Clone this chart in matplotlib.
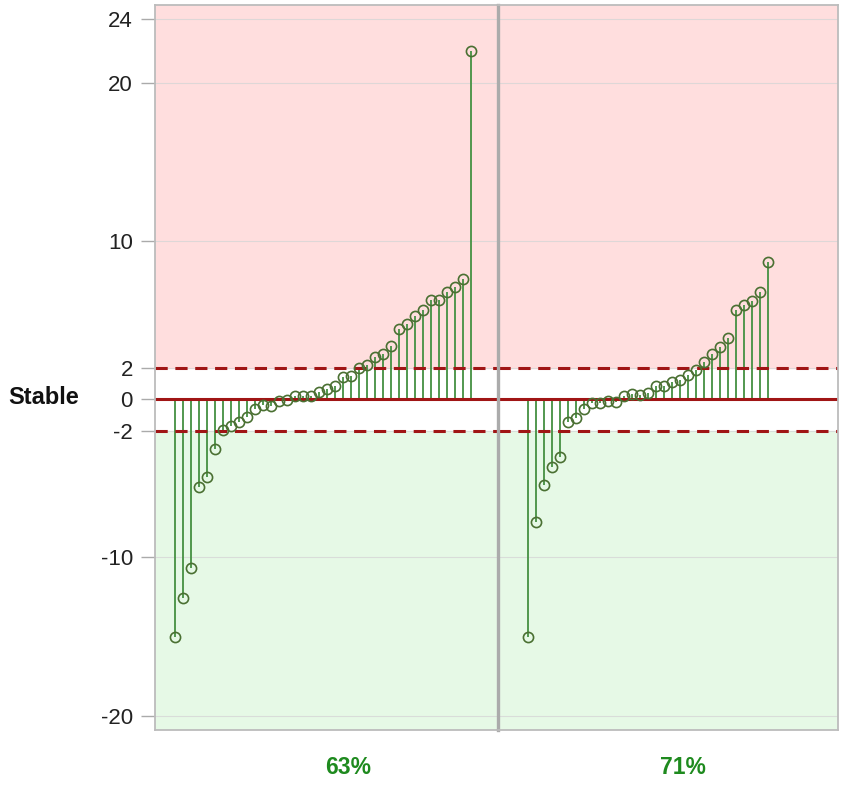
import matplotlib.pyplot as plt
import numpy as np

plt.rcParams["font.family"] = ["Liberation Sans", "DejaVu Sans"]

# sorted change values per group
group_labels = ["63%", "71%"]
left_values = [
    -15.0, -12.55, -10.65, -5.55, -4.94, -3.16, -1.96, -1.71, -1.43, -1.12,
    -0.65, -0.40, -0.44, -0.10, -0.05, 0.20, 0.23, 0.23, 0.46, 0.67,
    0.86, 1.37, 1.46, 1.98, 2.15, 2.68, 2.85, 3.35, 4.45, 4.77,
    5.23, 5.63, 6.27, 6.27, 6.79, 7.11, 7.58, 22.0,
]
right_values = [
    -15.04, -7.74, -5.44, -4.26, -3.63, -1.46, -1.22, -0.65, -0.27, -0.27,
    -0.13, -0.21, 0.21, 0.30, 0.25, 0.36, 0.86, 0.86, 1.08, 1.20,
    1.54, 1.84, 2.36, 2.87, 3.27, 3.88, 5.63, 5.93, 6.22, 6.79,
    8.65,
]
y_ticks = [-20, -10, -2, 0, 2, 10, 20, 24]
threshold = 2

fig = plt.figure(figsize=(8.46, 7.86), dpi=100)
ax_l = fig.add_axes([155 / 846, 1 - 730 / 786, 343 / 846, 725 / 786])
ax_r = fig.add_axes([498 / 846, 1 - 730 / 786, 340 / 846, 725 / 786], sharey=ax_l)

ylim = (-20.9, 24.9)
for ax, vals, xlim, lab, lab_x in [
    (ax_l, left_values, (-2.5, 40.4), group_labels[0], 0.562),
    (ax_r, right_values, (-3.75, 38.75), group_labels[1], 0.544),
]:
    ax.set_xlim(*xlim)
    ax.set_ylim(*ylim)
    ax.axhspan(threshold, ylim[1], color="#ffdede", zorder=0)
    ax.axhspan(ylim[0], -threshold, color="#e6f9e6", zorder=0)
    for t in y_ticks:
        ax.axhline(t, color="#d6d6d6", lw=0.8, alpha=0.8, zorder=1)

    x = np.arange(len(vals))
    ax.vlines(x, 0, vals, color="#4b9448", lw=1.35, zorder=2)
    ax.axhline(0, color="#a01515", lw=2.2, zorder=3)
    for h in (threshold, -threshold):
        ax.axhline(h, color="#a01515", lw=2.2, ls=(0, (4, 2.5)), zorder=3)
    ax.plot(x, vals, "o", ms=7.3, mfc="none", mec="#4a7032", mew=1.2, zorder=4)

    ax.set_xticks([])
    for s in ax.spines.values():
        s.set_color("#bcbcbc")
        s.set_linewidth(1.3)
        s.set_zorder(5)
    ax.text(lab_x, -0.052, lab, transform=ax.transAxes, ha="center", va="center",
            fontsize=16.5, fontweight="bold", color="#1e8a1e")

# divider between the two groups
ax_l.spines["right"].set_visible(False)
ax_r.spines["left"].set_color("#ababab")
ax_r.spines["left"].set_linewidth(2.4)

ax_l.set_yticks(y_ticks)
ax_l.set_yticklabels([str(t) for t in y_ticks], fontsize=16, color="#222222")
ax_l.tick_params(axis="y", length=10, width=1, color="#aaaaaa", pad=6)
ax_r.tick_params(axis="y", left=False, labelleft=False)

fig.text(44 / 846, 1 - 398 / 786, "Stable", ha="center", va="center",
         fontsize=17, fontweight="bold", color="#111111")

fig.savefig("out.png", dpi=100)
